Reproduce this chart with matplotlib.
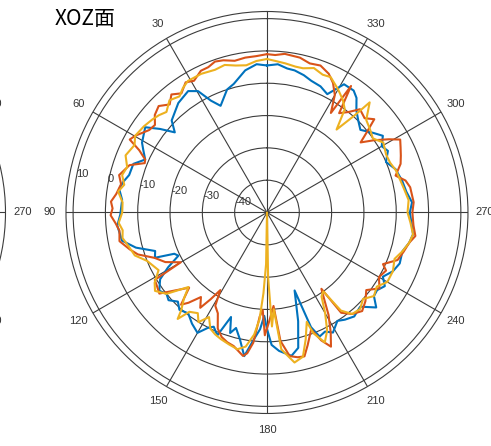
import numpy as np
import matplotlib.pyplot as plt

plt.rcParams['font.family'] = ['Liberation Sans', 'DejaVu Sans']

# pattern data, XOZ plane (angle in degrees, gain in dB)
blue_deg = [0, 4, 8.7, 14.5, 18, 23.5, 26.6, 29.6, 33, 39, 43, 46, 49, 52, 55, 60.8, 63, 66.5, 70,
            74.8, 78, 81, 85, 90.8, 95, 101, 105, 109, 112, 114, 116, 119, 122, 126, 129, 131.7, 135,
            138, 142, 146, 150, 153, 155, 158, 161, 163, 165, 168, 171, 174, 176.6, 178.5, 180, 182,
            185, 189.7, 193, 196, 199.5, 201, 203, 206, 208.8, 213, 216, 220, 224.7, 229, 232, 234.8,
            238, 241, 245, 249, 254, 258, 261.5, 265, 270, 274, 278.5, 283, 288.6, 293, 297, 300,
            303.5, 307, 311.5, 315, 318.8, 322, 324.6, 329, 333, 337, 341.4, 345, 349, 352, 355.8]
blue_db = [-4.5, -4, -5.5, -8.9, -10, -14, -11.3, -6.8, -5.2, -6.4, -8, -9, -12.2, -8, -4, -5.7, -7, -8.9, -6,
           -5.8, -4.5, -3.7, -5, -4.6, -3.5, -4.3, -8, -13.4, -12.6, -18.6, -19.5, -15, -11, -8.8, -10, -9.2, -11,
           -9.5, -10.4, -8.5, -7, -10, -11, -9, -15.8, -11, -13, -9.8, -5, -10.4, -13.8, -18, -14, -9,
           -7, -5, -7, -15, -24.4, -12, -8.3, -9, -7.6, -10, -9, -8, -9, -5.2, -8, -8.3,
           -7, -9, -7, -6, -6.4, -5, -4.3, -5, -5.8, -5, -6.4, -7, -8, -10, -8, -9,
           -7, -9, -11.4, -10, -8, -5, -3.7, -3.7, -8.9, -7.6, -7, -6, -5.2, -5, -4]

orange_deg = [0, 4, 8, 12, 16, 19, 22, 25, 29, 32, 35.7, 39, 42, 45.5, 49, 52, 55, 59.8, 62, 64, 66.5,
              68, 71, 75.8, 79, 83, 86, 88.5, 91, 94, 97, 101, 105, 108, 112, 116, 120, 121, 124, 127,
              131, 134, 137, 139, 142, 145, 147, 149, 151, 154, 157, 160, 163, 166, 170.5, 172, 174,
              176, 177.5, 179, 181, 184, 186, 189, 192, 194.6, 197, 200.7, 203, 205.5, 208, 211, 213.5,
              215.5, 216.5, 220, 224, 228, 232, 236, 240, 244, 246, 250, 254, 258, 261, 265, 270, 274,
              280, 283, 286, 290, 293, 296, 298.7, 301, 304, 306.8, 309, 311, 314, 318, 321, 324,
              326.4, 327.3, 330, 333, 336, 340, 344, 348, 353.6, 357]
orange_db = [-1, -1.5, -1.6, -2, -1, -0.6, -1.5, -1.6, -3.4, -2.5, -4.6, -3, -5, -3, -4, -6, -5.5, -2.8, -1.9, -6, -8.9,
             -9.2, -5, -2.8, -4, -3, -1.6, -2.2, -1.6, -3, -4, -3.5, -6, -8, -12.5, -15, -19.2, -9.5, -9, -8.3,
             -13.5, -16.5, -11, -13, -16.8, -14, -18, -22, -17, -15.3, -11, -9, -8, -7.4, -5, -6, -9.5,
             -17.7, -19.8, -12, -16, -21, -10, -5, -4.2, -4, -7, -11.3, -7, -4, -8, -13, -18,
             -21, -11.4, -9, -7.6, -9, -11, -8, -10, -9, -10.7, -7, -6, -5, -3.5, -4.5, -5, -4.5,
             -5, -6, -8.6, -6, -5, -4, -3, -6, -10, -13.8, -10, -6, -8, -7, -10, -12,
             -3, -13.4, -8, -5, -3, -1.6, -2, -1, -0.6, -1.2]

yellow_deg = [0, 4, 8, 12, 16, 20, 25.4, 31, 34, 37, 41, 45, 48, 51, 55, 59.8, 63, 68, 72, 75.5, 79, 82,
              86, 90, 94, 97, 100, 104, 108, 112, 118, 122, 125, 129, 133.5, 136, 138.7, 140, 142, 145.5,
              148, 151, 154, 157, 160, 164, 167.8, 171, 174, 176, 177.5, 179, 180, 181, 182.5, 184, 186,
              190.4, 194, 197, 200, 201, 204, 207, 210, 213, 215.5, 217, 220, 224, 228, 232, 236, 240,
              245, 250, 254, 258, 261.5, 266, 270, 275, 280, 284, 288, 292, 296, 301, 305, 309, 313,
              317, 318, 320, 323, 326, 330, 334.8, 338, 342, 346, 349, 353, 357]
yellow_db = [-2.5, -3, -4, -3.5, -2.5, -3, -2.5, -2.5, -3.5, -5, -4, -6, -5, -4.3, -3.5, -2.8, -4, -2.8, -4.5, -3.7, -5, -3.5,
             -5.2, -5.2, -4, -5, -4.6, -6, -7, -10, -12, -9, -7.7, -10, -16.5, -13, -9.8, -7, -11, -12.2,
             -10, -13, -10, -9, -8.3, -7.5, -6.7, -8, -12, -16.8, -25, -34, -50, -30, -14.7, -20, -7.4,
             -2.8, -4, -9, -14, -10, -6, -9, -14, -19, -20, -12, -9, -8.5, -10, -8, -9, -7,
             -7, -8, -6.4, -5, -4.3, -5.5, -6.5, -6, -7, -7.6, -8, -8.9, -9, -8, -10, -9, -8,
             -3.4, -9.8, -16.5, -10, -8, -6, -3.7, -4, -3, -4, -4, -3.5, -3]

ring_levels = [-40, -30, -20, -10, 0, 10]
angle_ticks = list(range(0, 360, 30))

GRID = '#3c3c3c'
TXT = '#333333'
R_MIN, R_MAX = -50, 12.2
R_LABEL = 17.4   # where the angle labels sit, just outside the outer ring


def style_polar(ax):
    ax.set_theta_zero_location('N')
    ax.set_theta_direction(1)
    ax.set_ylim(R_MIN, R_MAX)
    ax.set_yticks(ring_levels)
    ax.set_yticklabels([])
    ax.set_thetagrids(angle_ticks, [''] * len(angle_ticks))
    ax.grid(True, color=GRID, linewidth=0.8)
    ax.spines['polar'].set_color(GRID)
    ax.spines['polar'].set_linewidth(0.8)
    for a in angle_ticks:
        ax.text(np.deg2rad(a), R_LABEL, str(a), ha='center', va='center',
                fontsize=8, color=TXT)


fig = plt.figure(figsize=(4.91, 4.46), dpi=100)

# neighbouring subplot, mostly outside the picture
ax_left = fig.add_axes([-0.8075, 0.0729, 0.8187, 0.9013], projection='polar')
style_polar(ax_left)

ax = fig.add_axes([0.1344, 0.0729, 0.8187, 0.9013], projection='polar')
style_polar(ax)

series = [(blue_deg, blue_db, '#0072BD'),
          (orange_deg, orange_db, '#D95319'),
          (yellow_deg, yellow_db, '#EDB120')]
for deg, db, col in series:
    th = np.deg2rad(deg + [deg[0] + 360])
    r = db + [db[0]]
    ax.plot(th, r, color=col, linewidth=1.5)

for v in ring_levels:
    ax.text(np.deg2rad(80), v, str(v), ha='left', va='bottom', fontsize=8, color=TXT)

fig.text(55 / 491, 1 - 8 / 446, 'XOZ面', ha='left', va='top', fontsize=15,
         family=['Noto Sans CJK SC', 'DejaVu Sans'])

fig.savefig('out.png', dpi=100)
